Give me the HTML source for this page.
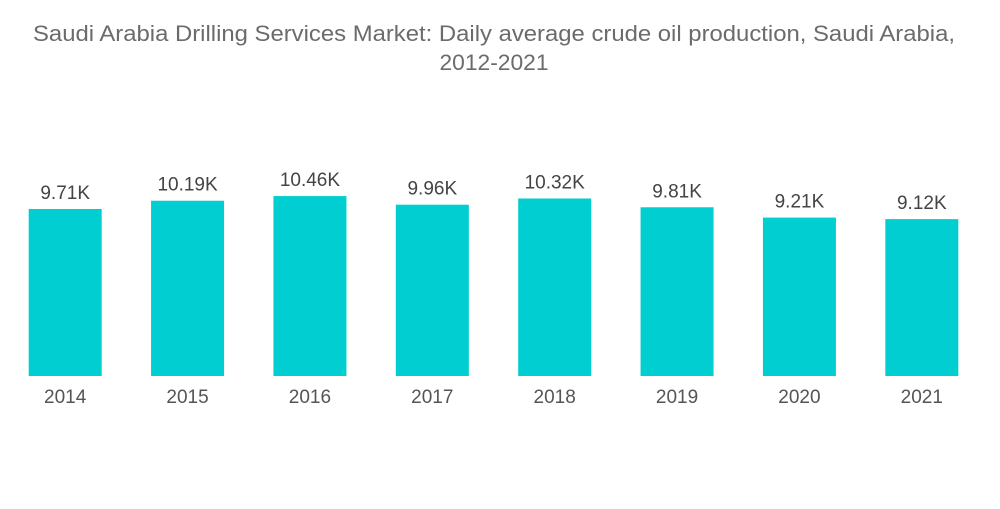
<!DOCTYPE html>
<html><head><meta charset="utf-8"><style>
body{margin:0;background:#fff;width:1000px;height:504px;overflow:hidden;font-family:"Liberation Sans",sans-serif;}
</style></head><body>
<svg id="chart" width="1000" height="504">
<text x="494" y="41" text-anchor="middle" font-size="22" fill="#6b6b6b" textLength="922" lengthAdjust="spacingAndGlyphs">Saudi Arabia Drilling Services Market: Daily average crude oil production, Saudi Arabia,</text>
<text x="494" y="70" text-anchor="middle" font-size="22" fill="#6b6b6b" textLength="109" lengthAdjust="spacingAndGlyphs">2012-2021</text>
<g id="bars"></g>
</svg>
<script>
const categories=["2014","2015","2016","2017","2018","2019","2020","2021"];
const values=[9.71,10.19,10.46,9.96,10.32,9.81,9.21,9.12];
const valueLabels=["9.71K","10.19K","10.46K","9.96K","10.32K","9.81K","9.21K","9.12K"];
const plotLeft=4,plotRight=983,baseY=376,pxPerUnit=17.2;
const band=(plotRight-plotLeft)/categories.length,bw=73;
function xScale(i){return plotLeft+band*i+band/2;}
function yScale(v){return baseY-v*pxPerUnit;}
const g=document.getElementById('bars');
const ns="http://www.w3.org/2000/svg";
categories.forEach((c,i)=>{
  const cx=xScale(i),y=yScale(values[i]);
  const r=document.createElementNS(ns,'rect');
  r.setAttribute('x',cx-bw/2);r.setAttribute('y',y);r.setAttribute('width',bw);r.setAttribute('height',baseY-y);r.setAttribute('fill','#00ced1');
  
  
  g.appendChild(r);
  const t=document.createElementNS(ns,'text');
  t.setAttribute('x',cx);t.setAttribute('y',y-10);t.setAttribute('text-anchor','middle');t.setAttribute('font-size','19');t.setAttribute('fill','#444');
  t.textContent=valueLabels[i];
  
  
  g.appendChild(t);
  const l=document.createElementNS(ns,'text');
  l.setAttribute('x',cx);l.setAttribute('y',403);l.setAttribute('text-anchor','middle');l.setAttribute('font-size','19');l.setAttribute('fill','#555');
  l.textContent=c;
  
  
  g.appendChild(l);
});
</script>
</body></html>
